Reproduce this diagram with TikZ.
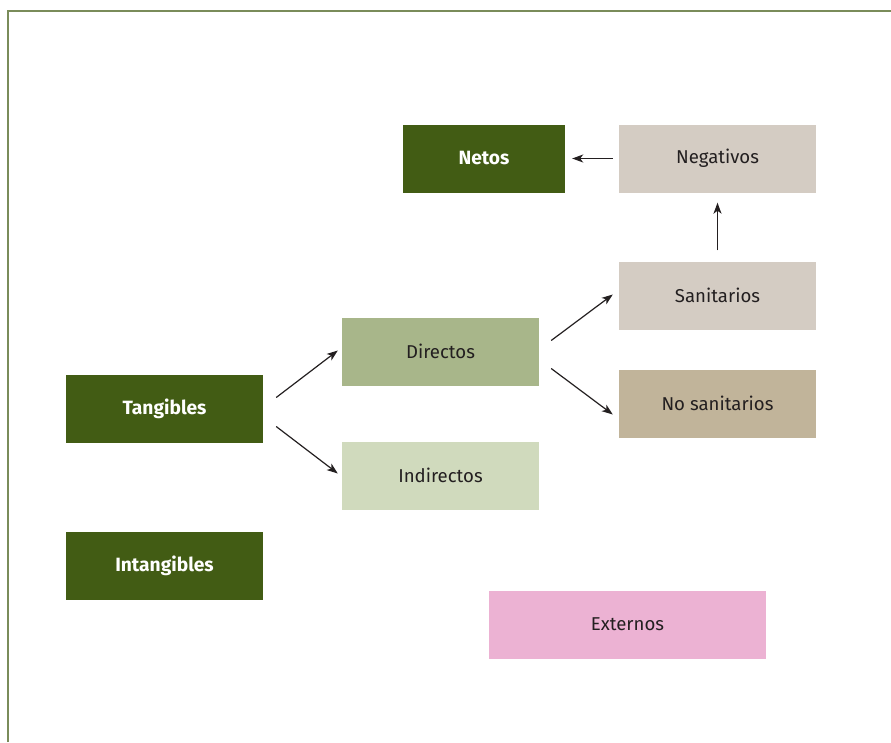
\documentclass[tikz,border=0pt]{standalone}
\usepackage{fontspec}
\setmainfont{Fira Sans}
\usetikzlibrary{arrows.meta}
\definecolor{frameline}{HTML}{7A8C5A}
\definecolor{darkgreen}{HTML}{425C14}
\definecolor{midgreen}{HTML}{A8B68A}
\definecolor{palegreen}{HTML}{D0DABD}
\definecolor{greige}{HTML}{D4CCC3}
\definecolor{tan}{HTML}{C1B49A}
\definecolor{pink}{HTML}{ECB2D3}
\definecolor{txt}{HTML}{231F20}
\tikzset{
  box/.style={minimum width=197pt, minimum height=68pt, inner sep=0pt,
    font=\fontsize{18.6}{22}\selectfont, text=txt},
  keybox/.style={box, fill=darkgreen, text=white, font=\fontsize{19.2}{22}\selectfont\bfseries},
  link/.style={-{Stealth[length=11pt,width=8pt,inset=3pt]}, line width=1.2pt, txt}
}
\begin{document}
\begin{tikzpicture}[x=1pt,y=-1pt]
  \useasboundingbox (0,0) rectangle (891,742);
  % open frame: top and left rules only
  \draw[frameline, line width=2pt] (8,742) -- (8,11) -- (891,11);

  \node[keybox, minimum width=162pt] (netos) at (484,158.5) {Netos};
  \node[box, fill=greige] (neg) at (717.5,158.5) {Negativos};
  \node[box, fill=greige] (san) at (717.5,295.5) {Sanitarios};
  \node[box, fill=tan] (nosan) at (717.5,403.5) {No sanitarios};
  \node[box, fill=midgreen] (dir) at (440.5,351.5) {Directos};
  \node[box, fill=palegreen] (ind) at (440.5,475.5) {Indirectos};
  \node[keybox] (tang) at (164.5,408.5) {Tangibles};
  \node[keybox] (intang) at (164.5,565.5) {Intangibles};
  \node[box, fill=pink, minimum width=277pt] (ext) at (627.5,624.5) {Externos};

  \draw[link] ([xshift=-6pt]neg.west) -- ([xshift=7pt]netos.east);
  \draw[link] ([yshift=11pt]san.north) -- ([yshift=-10pt]neg.south);
  \draw[link] ([shift={(13,-11)}]tang.east) -- ([shift={(-4,-1)}]dir.west);
  \draw[link] ([shift={(13,18)}]tang.east) -- ([shift={(-4,-2)}]ind.west);
  \draw[link] ([shift={(12,-11)}]dir.east) -- ([shift={(-6,-1)}]san.west);
  \draw[link] ([shift={(12,17)}]dir.east) -- ([shift={(-6,11)}]nosan.west);
\end{tikzpicture}
\end{document}
